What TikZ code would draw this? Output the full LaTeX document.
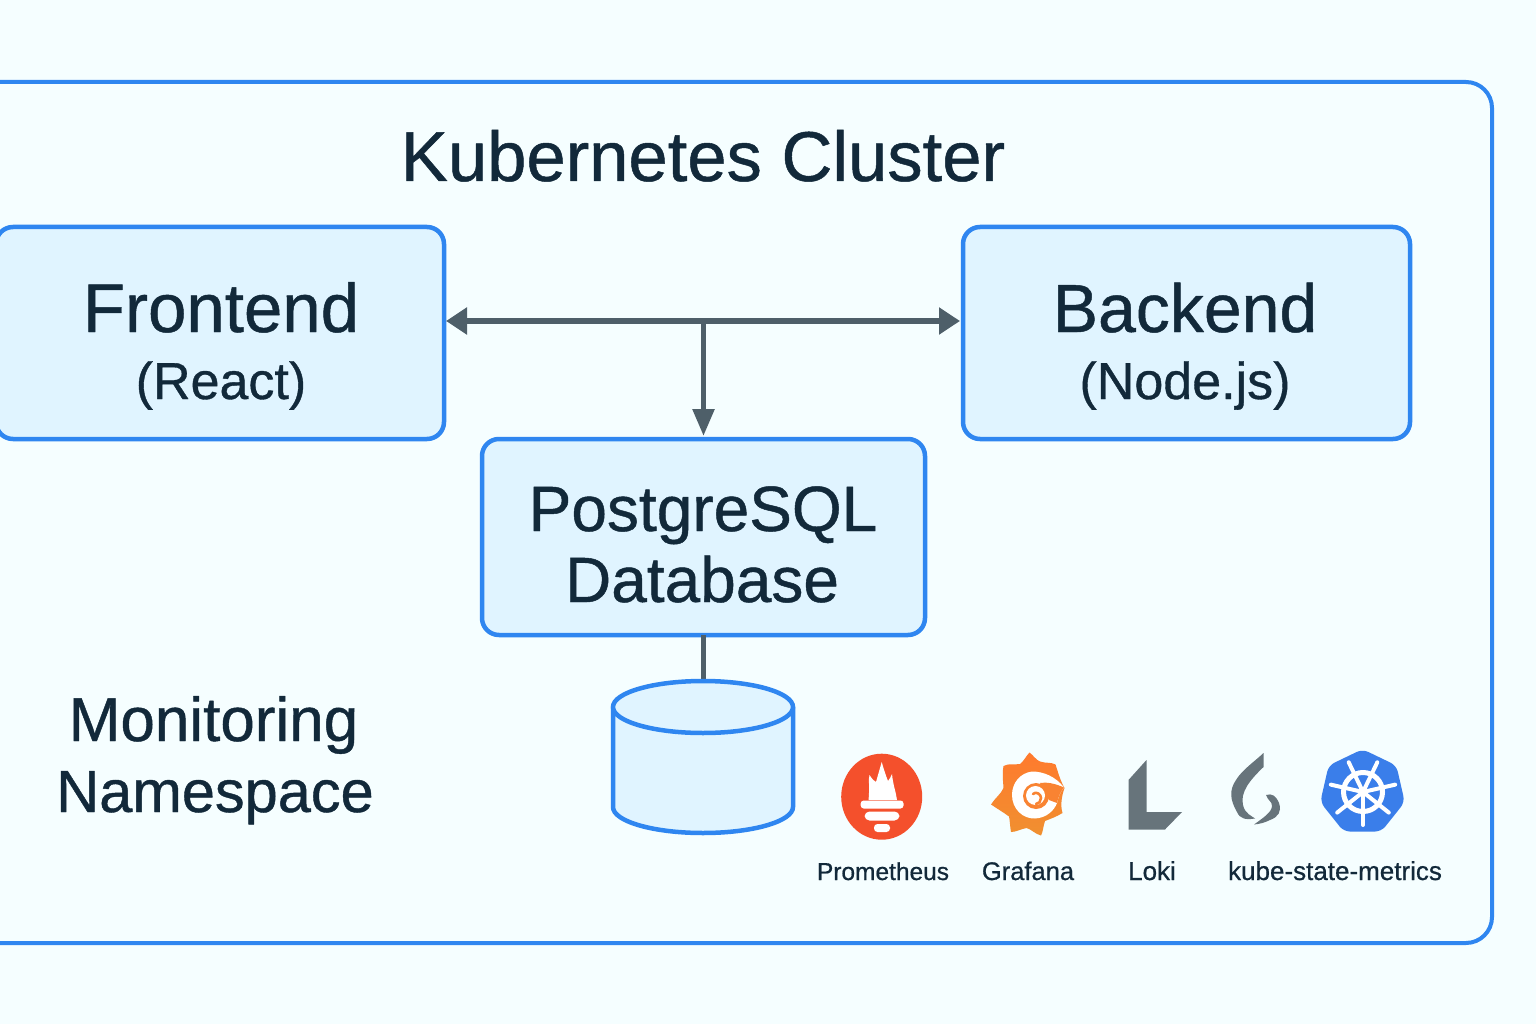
\documentclass[tikz,border=0pt]{standalone}
\usepackage{fontspec}
\setmainfont{Liberation Sans}[RawFeature={embolden=0.7}]
\usepackage{xcolor}
\usetikzlibrary{arrows.meta,shapes.geometric}
\definecolor{pagebg}{HTML}{F5FEFF}
\definecolor{boxblue}{HTML}{2F86F0}
\definecolor{boxfill}{HTML}{E0F4FF}
\definecolor{inkdark}{HTML}{12293A}
\definecolor{arrowgrey}{HTML}{4E5F69}
\definecolor{iconred}{HTML}{F4502C}
\definecolor{icongrey}{HTML}{67747B}
\definecolor{kubeblue}{HTML}{3A7EEA}
\definecolor{suntop}{HTML}{FF7A2E}
\definecolor{sunlow}{HTML}{F09030}
\definecolor{sunmid}{HTML}{F98332}
\tikzset{
	frame/.style={draw=boxblue,line width=4pt,rounded corners=26pt},
	box/.style={frame,line width=4.5pt,fill=boxfill,rounded corners=17pt},
	link/.style={draw=arrowgrey,line width=5.5pt,line cap=butt},
	bigtext/.style={anchor=base,inner sep=0pt,text=inkdark,font=\fontsize{64}{64}\selectfont},
	subtext/.style={bigtext,font=\fontsize{52}{52}\selectfont},
	toolname/.style={anchor=base,inner sep=0pt,text=inkdark,font=\fontsize{26}{26}\selectfont}
}
\begin{document}
\begin{tikzpicture}[line cap=round,line join=round,x=1pt,y=-1pt]
		\clip (0,0) rectangle (1536,1024);
		\fill[pagebg] (0,0) rectangle (1536,1024);
		\draw[frame] (-30,82) rectangle (1492,943);
		% boxes
		\draw[box] (-4,227) rectangle (444,439);
		\draw[box] (963,227) rectangle (1410,439);
		\draw[box] (482,439) rectangle (925,635);
		\coordinate (frontEdge) at (446,321);
		\coordinate (backEdge) at (960,321);
		\coordinate (hub) at (703.5,321);
		\coordinate (dbTop) at (703.5,436);
		\coordinate (dbBottom) at (703.5,635);
		\coordinate (drumTop) at (703.5,681);
		% connectors
		\draw[link,{Triangle[length=21pt,width=26pt]}-{Triangle[length=21pt,width=26pt]}] (frontEdge) -- (backEdge);
		\draw[link,-{Triangle[length=27pt,width=21pt]}] (hub) -- (dbTop);
		\draw[link,line width=4.5pt] (dbBottom) -- (drumTop);
		% drum
		\draw[box,rounded corners=0pt] (613,707) -- (613,807) arc[start angle=180,end angle=0,x radius=90,y radius=26] -- (793,707);
		\draw[box,rounded corners=0pt] (703,707) ellipse[x radius=90,y radius=26];
		% labels
		\node[bigtext,font=\fontsize{70.6}{70}\selectfont] (clusterName) at (703,181) {Kubernetes Cluster};
		\node[bigtext,font=\fontsize{69}{69}\selectfont] (frontName) at (221,332) {Frontend};
		\node[subtext] (frontTech) at (221,399) {(React)};
		\node[bigtext,font=\fontsize{68}{68}\selectfont] (backName) at (1185,332) {Backend};
		\node[subtext] (backTech) at (1185,399) {(Node.js)};
		\node[bigtext] (dbName) at (703,531) {PostgreSQL};
		\node[bigtext] (dbType) at (702,602) {Database};
		\node[bigtext,font=\fontsize{62}{62}\selectfont] (monName) at (213.5,741) {Monitoring};
		\node[bigtext,font=\fontsize{59.5}{60}\selectfont] (monSpace) at (215,812) {Namespace};
		\node[toolname,font=\fontsize{24.5}{25}\selectfont] (promName) at (883,880) {Prometheus};
		\node[toolname,font=\fontsize{25.5}{26}\selectfont] (grafName) at (1028,880) {Grafana};
		\node[toolname] (lokiName) at (1152,880) {Loki};
		\node[toolname] (kubeName) at (1335,880) {kube-state-metrics};
		% prometheus icon
		\fill[iconred] (881.7,796.7) ellipse[x radius=40.5,y radius=43];
		\fill[white] (868.5,800) .. controls (870,785) and (868,780) .. (869.5,775) .. controls (872,779) and (874,781) .. (876,782) .. controls (878,775) and (880,768) .. (881.7,762) .. controls (884,770) and (886,776) .. (888,781) .. controls (890,779) and (891,776) .. (892,774) .. controls (893,785) and (896,792) .. (897,800) -- cycle;
		\fill[white,rounded corners=3pt] (860.7,800.5) rectangle (903.5,808.5);
		\fill[white,rounded corners=5pt] (864.5,811.5) rectangle (899.5,820.5);
		\fill[white,rounded corners=3.5pt] (874,824) rectangle (890,832);
		% grafana icon
		\shade[top color=suntop,bottom color=sunlow]
			(1029.5,752.5) .. controls (1033,755) and (1036,760) .. (1040,761.5) .. controls (1046,763.5) and (1051,762) .. (1055.5,764.5) .. controls (1058,772) and (1060,780) .. (1064.5,788) .. controls (1062,795) and (1060,805) .. (1062.5,813) .. controls (1056,817) and (1050,819) .. (1045,821) .. controls (1043,827) and (1043,832) .. (1041,835.5) .. controls (1035,834) and (1031,829) .. (1026.5,828) .. controls (1021,829) and (1016,832) .. (1011,832) .. controls (1010,827) and (1010,821) .. (1009,816.5) .. controls (1003,812) and (996,808) .. (991,804.5) .. controls (995,798) and (1001,794) .. (1003.5,788) .. controls (1003,780) and (1002,772) .. (1003.5,766) .. controls (1009,763) and (1015,765) .. (1020,764) .. controls (1024,761) and (1026,756) .. (1029.5,752.5) -- cycle;
		\fill[white] (1064,787.5) .. controls (1056,777) and (1044,771.5) .. (1032,771.5) .. controls (1020,773) and (1012,783) .. (1012,795) .. controls (1012,809) and (1023,819) .. (1035,818.5) .. controls (1046,818) and (1054,811) .. (1057,803) .. controls (1058,798) and (1060,792) .. (1064,787.5) -- cycle;
		\fill[sunmid] (1036,796) circle (13);
		\fill[sunmid] (1064,787.5) .. controls (1054,783) and (1046,782) .. (1040,783) -- (1049,800) -- (1057,803) .. controls (1058,798) and (1060,792) .. (1064,787.5) -- cycle;
		\fill[white] (1035.5,795.5) circle (9.5);
		\draw[sunmid,line width=2.6pt] (1033,794) .. controls (1036,791) and (1041,794) .. (1041,798) .. controls (1041,801) and (1039,804) .. (1036,804);
		% loki icon
		\fill[icongrey] (1128.5,780) -- (1146.5,760) -- (1146.5,812) -- (1182,812) -- (1165,829.5) -- (1128.5,829.5) -- cycle;
		\fill[icongrey] (1263.5,753) -- (1263.5,767) .. controls (1250,780) and (1240,792) .. (1243,805) .. controls (1245,814) and (1252,816) .. (1255,818.5) .. controls (1246,820) and (1240,819) .. (1237,812) .. controls (1230,800) and (1229,790) .. (1236,780) .. controls (1242,770) and (1254,762) .. (1263.5,753) -- cycle;
		\fill[icongrey] (1266,795) .. controls (1272,793) and (1276,796) .. (1279,803) .. controls (1282,812) and (1278,817) .. (1270,820) .. controls (1264,823) and (1259,824) .. (1254,824.5) .. controls (1263,818) and (1272,812) .. (1272,806) .. controls (1272,801) and (1268,801) .. (1266,795) -- cycle;
		% kubernetes icon
		\node[regular polygon,regular polygon sides=7,fill=kubeblue,draw=kubeblue,line width=6pt,rounded corners=5pt,minimum size=80pt,inner sep=0pt] (kubeWheel) at (1362.5,792.5) {};
		\draw[white,line width=5pt] (1363,792) circle (19.5);
		\foreach \spokeangle in {90,141.4,192.9,244.3,295.7,347.1,38.6}
			\draw[white,line width=4pt] (1363,792) -- ++(\spokeangle:33);
		\fill[white] (1363,792) circle (5);
\end{tikzpicture}
\end{document}
